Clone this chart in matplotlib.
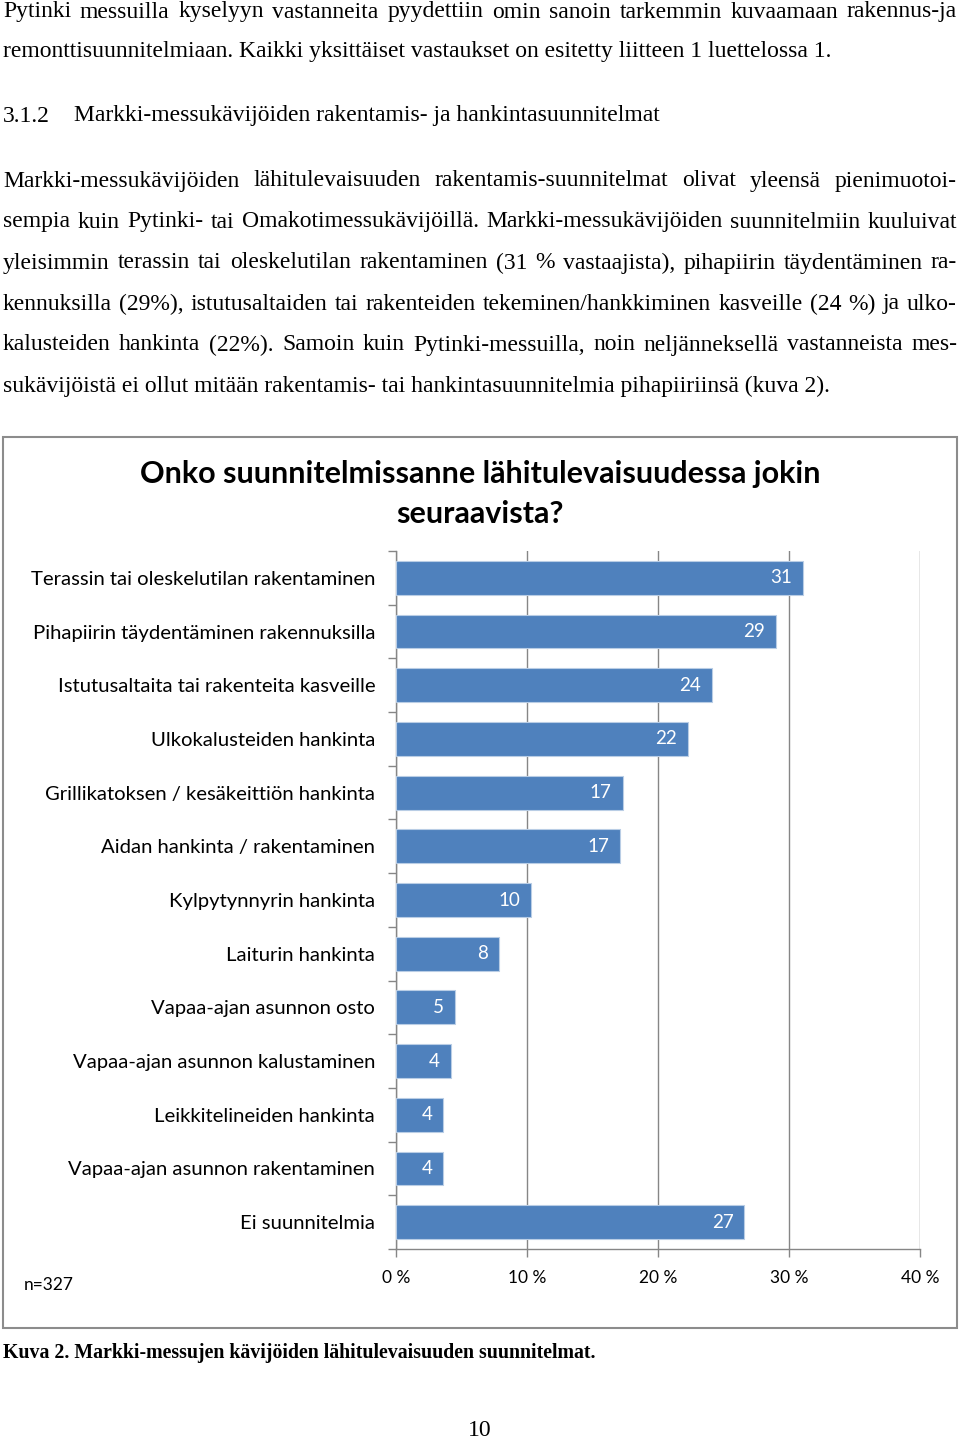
import matplotlib
matplotlib.use('Agg')
import matplotlib.pyplot as plt
from matplotlib.patches import Rectangle
import numpy as np

# data of the chart
categories = [
    'Terassin tai oleskelutilan rakentaminen',
    'Pihapiirin täydentäminen rakennuksilla',
    'Istutusaltaita tai rakenteita kasveille',
    'Ulkokalusteiden hankinta',
    'Grillikatoksen / kesäkeittiön hankinta',
    'Aidan hankinta / rakentaminen',
    'Kylpytynnyrin hankinta',
    'Laiturin hankinta',
    'Vapaa-ajan asunnon osto',
    'Vapaa-ajan asunnon kalustaminen',
    'Leikkitelineiden hankinta',
    'Vapaa-ajan asunnon rakentaminen',
    'Ei suunnitelmia',
]
values = [31.1, 29.0, 24.1, 22.3, 17.3, 17.1, 10.3, 7.9, 4.5, 4.2, 3.6, 3.6, 26.6]
value_labels = ['31', '29', '24', '22', '17', '17', '10', '8', '5', '4', '4', '4', '27']
x_ticks = [0, 10, 20, 30, 40]
x_ticklabels = ['0 %', '10 %', '20 %', '30 %', '40 %']

title = 'Onko suunnitelmissanne lähitulevaisuudessa jokin\nseuraavista?'
n_note = 'n=327'
caption = 'Kuva 2. Markki-messujen kävijöiden lähitulevaisuuden suunnitelmat.'
page_no = '10'

# page text: (y pixel, text, justified)
page_lines = [
    (12, 'Pytinki messuilla kyselyyn vastanneita pyydettiin omin sanoin tarkemmin kuvaamaan rakennus-ja', True),
    (52, 'remonttisuunnitelmiaan. Kaikki yksittäiset vastaukset on esitetty liitteen 1 luettelossa 1.', False),
    (181, 'Markki-messukävijöiden lähitulevaisuuden rakentamis-suunnitelmat olivat yleensä pienimuotoi-', True),
    (222, 'sempia kuin Pytinki- tai Omakotimessukävijöillä. Markki-messukävijöiden suunnitelmiin kuuluivat', True),
    (263, 'yleisimmin terassin tai oleskelutilan rakentaminen (31 % vastaajista), pihapiirin täydentäminen ra-', True),
    (304, 'kennuksilla (29%), istutusaltaiden tai rakenteiden tekeminen/hankkiminen kasveille (24 %) ja ulko-', True),
    (345, 'kalusteiden hankinta (22%). Samoin kuin Pytinki-messuilla, noin neljänneksellä vastanneista mes-', True),
    (386, 'sukävijöistä ei ollut mitään rakentamis- tai hankintasuunnitelmia pihapiiriinsä (kuva 2).', False),
]

W, H = 960, 1440
fig = plt.figure(figsize=(9.6, 14.4), dpi=100)
fig.patch.set_facecolor('white')
r = fig.canvas.get_renderer()

serif = 'Liberation Serif'
chart_font = 'Lato'
body_size = 17


def put_line(y, text, justify, x0=3, x1=957):
    yf = 1 - y / H
    if not justify:
        fig.text(x0 / W, yf, text, family=serif, size=body_size, va='center', ha='left')
        return
    words = text.split(' ')
    ts = [fig.text(0, yf, w, family=serif, size=body_size, va='center', ha='left') for w in words]
    widths = [t.get_window_extent(r).width for t in ts]
    gap = ((x1 - x0) - sum(widths)) / (len(words) - 1)
    x = x0
    for t, w in zip(ts, widths):
        t.set_x(x / W)
        x += w + gap


for y, txt, j in page_lines:
    put_line(y, txt, j)

# heading
fig.text(3 / W, 1 - 116 / H, '3.1.2', family=serif, size=body_size, va='center')
fig.text(74 / W, 1 - 116 / H, 'Markki-messukävijöiden rakentamis- ja hankintasuunnitelmat',
         family=serif, size=body_size, va='center')

# chart frame
fig.patches.append(Rectangle((3 / W, 1 - 1328 / H), 954 / W, (1328 - 437) / H,
                             transform=fig.transFigure, fill=False,
                             edgecolor='#8c8c8c', linewidth=1.5))

fig.text(480 / W, 1 - 494 / H, title, family=chart_font, weight='bold', size=22,
         ha='center', va='center', linespacing=1.5)

# axes
left, right = 396, 920
top, bottom = 551, 1249
ax = fig.add_axes([left / W, 1 - bottom / H, (right - left) / W, (bottom - top) / H])
y = np.arange(len(categories))
ax.barh(y, values, height=0.63, color='#4F81BD', edgecolor='#B9CDE5', linewidth=0.8, zorder=3)
ax.set_xlim(0, 40)
ax.set_ylim(len(categories) - 0.5, -0.5)
ax.set_xticks(x_ticks)
ax.set_xticklabels(x_ticklabels, family=chart_font, size=12.5)
ax.set_yticks(y)
ax.set_yticklabels(categories, family=chart_font, size=14.6)
ax.set_yticks(np.arange(len(categories) + 1) - 0.5, minor=True)
ax.tick_params(axis='y', which='major', length=0, pad=15)
ax.tick_params(axis='y', which='minor', length=6, color='#868686', width=1)
ax.tick_params(axis='x', length=6, color='#868686', width=1, pad=9)
ax.xaxis.grid(True, color='#868686', linewidth=1, zorder=0)
ax.set_axisbelow(True)
for s in ['top', 'right']:
    ax.spines[s].set_visible(False)
for s in ['left', 'bottom']:
    ax.spines[s].set_color('#868686')
    ax.spines[s].set_linewidth(1)

for yi, v, lab in zip(y, values, value_labels):
    ax.annotate(lab, (v, yi), xytext=(-11, 0), textcoords='offset pixels',
                ha='right', va='center', color='white', family=chart_font, size=13.5, zorder=4)

fig.text(24 / W, 1 - 1285 / H, n_note, family=chart_font, size=12.5, va='center')

fig.text(3 / W, 1 - 1353 / H, caption, family=serif, weight='bold', size=14.3, va='center')
fig.text(480 / W, 1 - 1430 / H, page_no, family=serif, size=17, ha='center', va='center')

fig.savefig('out.png', dpi=100, facecolor='white')
